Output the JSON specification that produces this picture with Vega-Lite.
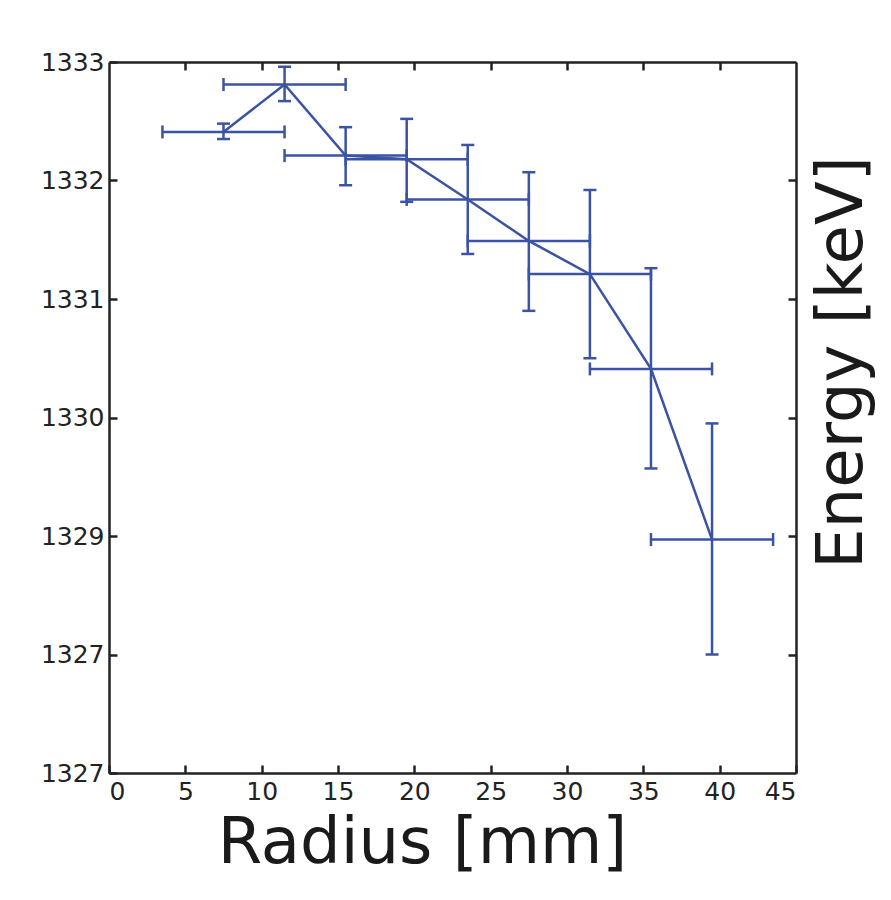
{
  "$schema": "https://vega.github.io/schema/vega-lite/v6.json",
  "width": 687,
  "height": 711,
  "autosize": "none",
  "padding": {"left": 109, "top": 62, "right": 95, "bottom": 127},
  "background": "white",
  "config": {
    "view": {"stroke": null},
    "axis": {
      "grid": false,
      "domainColor": "#222222",
      "domainWidth": 2.5,
      "tickColor": "#222222",
      "tickWidth": 2.5,
      "tickSize": -8,
      "labelFont": "DejaVu Sans",
      "labelFontSize": 25,
      "labelColor": "#222222",
      "titleFont": "DejaVu Sans",
      "titleFontSize": 64,
      "titleFontWeight": "normal",
      "titleColor": "#1a1a1a"
    }
  },
  "data": {
    "values": [
      {"r": 7.5, "rlo": 3.5, "rhi": 11.5, "e": 1332.41, "elo": 1332.35, "ehi": 1332.48},
      {"r": 11.5, "rlo": 7.5, "rhi": 15.5, "e": 1332.81, "elo": 1332.67, "ehi": 1332.96},
      {"r": 15.5, "rlo": 11.5, "rhi": 19.5, "e": 1332.21, "elo": 1331.96, "ehi": 1332.45},
      {"r": 19.5, "rlo": 15.5, "rhi": 23.5, "e": 1332.18, "elo": 1331.82, "ehi": 1332.52},
      {"r": 23.5, "rlo": 19.5, "rhi": 27.5, "e": 1331.84, "elo": 1331.38, "ehi": 1332.3},
      {"r": 27.5, "rlo": 23.5, "rhi": 31.5, "e": 1331.49, "elo": 1330.9, "ehi": 1332.07},
      {"r": 31.5, "rlo": 27.5, "rhi": 35.5, "e": 1331.21, "elo": 1330.5, "ehi": 1331.92},
      {"r": 35.5, "rlo": 31.5, "rhi": 39.5, "e": 1330.41, "elo": 1329.57, "ehi": 1331.26},
      {"r": 39.5, "rlo": 35.5, "rhi": 43.5, "e": 1328.97, "elo": 1328.0, "ehi": 1329.95}
    ]
  },
  "layer": [
    {
      "mark": {"type": "line", "color": "#3a53a4", "strokeWidth": 2.5},
      "encoding": {
        "x": {
          "field": "r", "type": "quantitative",
          "scale": {"domain": [0, 45], "nice": false, "zero": false},
          "axis": {
            "orient": "bottom",
            "values": [0, 5, 10, 15, 20, 25, 30, 35, 40, 45],
            "labelPadding": 14,
            "title": "Radius [mm]",
            "titleX": 313,
            "titleY": 89,
            "titleAlign": "center",
            "titleBaseline": "alphabetic"
          }
        },
        "y": {
          "field": "e", "type": "quantitative",
          "scale": {"domain": [1327, 1333], "nice": false, "zero": false},
          "axis": {
            "orient": "left",
            "values": [1327, 1328, 1329, 1330, 1331, 1332, 1333],
            "labelExpr": "datum.value == 1328 ? '1327' : format(datum.value, 'd')",
            "labelPadding": 13,
            "title": null
          }
        }
      }
    },
    {
      "mark": {"type": "rule", "color": "#3a53a4", "strokeWidth": 2.5},
      "encoding": {
        "x": {
          "field": "rlo", "type": "quantitative",
          "axis": {
            "orient": "top",
            "values": [5, 10, 15, 20, 25, 30, 35, 40],
            "labels": false,
            "title": null
          }
        },
        "x2": {"field": "rhi"},
        "y": {
          "field": "e", "type": "quantitative",
          "axis": {
            "orient": "right",
            "values": [1328, 1329, 1330, 1331, 1332],
            "labels": false,
            "title": "Energy [keV]",
            "titleAngle": -90,
            "titleX": 65,
            "titleY": 300,
            "titleAlign": "center",
            "titleBaseline": "alphabetic"
          }
        }
      }
    },
    {
      "mark": {"type": "rule", "color": "#3a53a4", "strokeWidth": 2.5},
      "encoding": {
        "x": {"field": "r", "type": "quantitative", "axis": null},
        "y": {"field": "elo", "type": "quantitative", "axis": null},
        "y2": {"field": "ehi"}
      }
    },
    {
      "mark": {"type": "tick", "orient": "vertical", "color": "#3a53a4", "opacity": 1, "size": 13, "thickness": 2.5},
      "encoding": {
        "x": {"field": "rlo", "type": "quantitative", "axis": null},
        "y": {"field": "e", "type": "quantitative", "axis": null}
      }
    },
    {
      "mark": {"type": "tick", "orient": "vertical", "color": "#3a53a4", "opacity": 1, "size": 13, "thickness": 2.5},
      "encoding": {
        "x": {"field": "rhi", "type": "quantitative", "axis": null},
        "y": {"field": "e", "type": "quantitative", "axis": null}
      }
    },
    {
      "mark": {"type": "tick", "orient": "horizontal", "color": "#3a53a4", "opacity": 1, "size": 13, "thickness": 2.5},
      "encoding": {
        "x": {"field": "r", "type": "quantitative", "axis": null},
        "y": {"field": "elo", "type": "quantitative", "axis": null}
      }
    },
    {
      "mark": {"type": "tick", "orient": "horizontal", "color": "#3a53a4", "opacity": 1, "size": 13, "thickness": 2.5},
      "encoding": {
        "x": {"field": "r", "type": "quantitative", "axis": null},
        "y": {"field": "ehi", "type": "quantitative", "axis": null}
      }
    }
  ],
  "resolve": {"axis": {"x": "independent", "y": "independent"}}
}
